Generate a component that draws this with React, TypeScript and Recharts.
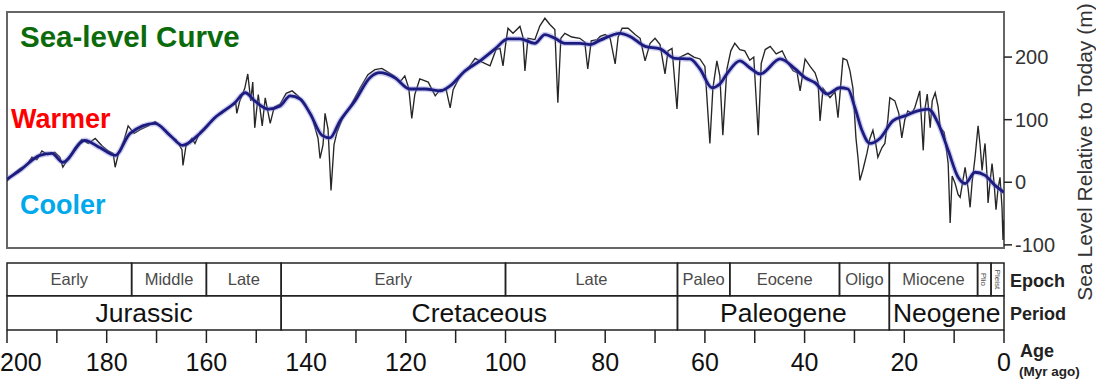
import { ComposedChart, Line, XAxis, YAxis, ReferenceArea } from 'recharts';

const FONT = '"Liberation Sans", Arial, Helvetica, sans-serif';
const INK = '#222';
const FRAME = '#666';

// Sea level (m) vs age (Myr ago): high-resolution record
const rawAge = [
  200.0, 198.6, 197.4, 196.0, 195.0, 194.0, 193.0, 191.8, 190.4, 189.4, 188.8, 188.0, 186.4, 185.0, 183.7,
  182.3, 180.9, 179.7, 178.7, 178.3, 177.7, 176.5, 175.7, 174.5, 173.3, 171.7, 170.3, 168.9, 167.3, 166.1,
  164.9, 164.7, 164.1, 162.9, 162.3, 161.3, 159.7, 158.3, 156.9, 155.3, 154.1, 153.9, 153.3, 152.3, 151.7,
  151.1, 150.7, 150.3, 149.6, 148.8, 148.2, 147.2, 146.4, 145.2, 144.0, 142.8, 141.6, 140.2, 138.8, 137.6,
  137.2, 136.6, 136.2, 135.6, 135.0, 134.4, 133.8, 132.8, 131.2, 129.2, 127.6, 126.2, 124.8, 123.6, 122.4,
  121.2, 120.2, 119.4, 118.8, 118.2, 117.2, 115.5, 114.1, 113.1, 111.9, 111.1, 110.5, 109.1, 107.5, 106.1,
  104.7, 103.1, 101.9, 101.1, 100.5, 99.9, 99.5, 98.5, 97.1, 96.5, 96.1, 95.5, 94.1, 93.1, 92.1,
  91.1, 90.1, 89.5, 88.9, 88.1, 86.7, 85.1, 84.1, 83.5, 82.8, 81.6, 81.0, 80.0, 79.0, 78.0,
  77.4, 76.6, 75.4, 74.0, 73.0, 72.0, 71.0, 70.0, 69.0, 68.0, 67.4, 66.6, 65.6, 65.0, 63.4,
  62.2, 61.0, 60.0, 59.0, 58.4, 57.6, 57.0, 56.4, 55.6, 54.8, 54.0, 53.0, 52.0, 51.0, 50.2,
  49.3, 48.7, 47.9, 46.9, 45.7, 44.5, 43.3, 42.3, 41.5, 40.9, 39.9, 38.9, 37.9, 37.3, 36.9,
  36.3, 34.9, 33.9, 33.3, 32.7, 32.3, 31.5, 30.9, 30.3, 29.7, 29.3, 28.9, 28.3, 27.5, 26.9,
  26.3, 25.7, 25.3, 24.5, 23.9, 23.3, 22.9, 21.9, 21.1, 20.5, 19.9, 19.3, 18.5, 17.9, 17.3,
  16.9, 16.2, 15.8, 15.4, 14.8, 14.4, 13.8, 13.2, 12.8, 12.0, 11.2, 10.8, 10.4, 9.8, 9.2,
  8.8, 8.2, 7.8, 7.2, 6.8, 6.4, 5.8, 5.2, 4.8, 4.4, 4.0, 3.8, 3.4, 3.2, 2.8,
  2.4, 2.0, 1.6, 1.2, 0.8, 0.4, 0.2, 0.0,
];
const rawLevel = [
  2, 14, 22, 28, 40, 36, 50, 44, 48, 40, 24, 34, 55, 68, 62,
  70, 58, 50, 46, 24, 44, 68, 90, 78, 84, 90, 97, 88, 74, 68,
  52, 27, 58, 70, 62, 80, 92, 104, 110, 120, 126, 110, 130, 150, 173,
  130, 160, 87, 140, 90, 135, 94, 120, 125, 142, 146, 138, 124, 104, 70,
  38, 60, 110, 85, -13, 60, 80, 100, 120, 150, 172, 180, 182, 176, 170,
  160, 170, 150, 102, 140, 165, 160, 138, 148, 148, 119, 148, 170, 182, 198,
  192, 186, 212, 214, 186, 225, 246, 238, 249, 232, 178, 230, 228, 250, 262,
  252, 244, 127, 230, 238, 232, 230, 224, 181, 226, 228, 233, 236, 230, 189,
  232, 246, 246, 236, 230, 194, 222, 230, 220, 173, 210, 214, 117, 200, 206,
  200, 197, 185, 62, 150, 194, 170, 75, 180, 210, 222, 212, 210, 195, 200,
  75, 190, 212, 217, 205, 210, 190, 178, 175, 146, 197, 185, 175, 160, 98,
  150, 135, 145, 103, 160, 198, 195, 178, 150, 71, 40, 3, 20, 46, 70,
  83, 60, 40, 55, 62, 100, 135, 130, 110, 71, 100, 114, 110, 119, 135,
  146, 51, 120, 141, 87, 130, 143, 120, 87, 80, 30, -65, 10, -2, -20,
  -24, 5, 24, -10, -40, 0, 40, 90, 60, 19, 50, 62, 10, -33, 0,
  30, 0, -44, -10, 8, -40, -92, -60,
];

// Long-term (smoothed) sea level curve
const smoothAge = [
  200.0, 197.4, 193.4, 191.0, 188.8, 184.4, 181.3, 178.3, 175.3, 170.3, 167.3, 164.8, 161.3, 158.3, 154.3,
  152.2, 150.3, 147.6, 145.2, 143.2, 141.2, 139.2, 136.8, 135.2, 133.2, 130.2, 127.2, 125.2, 122.2, 119.2,
  116.1, 113.1, 111.1, 108.1, 105.1, 102.1, 99.5, 97.1, 94.1, 92.1, 90.1, 88.1, 85.1, 83.0, 81.0,
  77.0, 75.0, 72.0, 69.0, 66.0, 63.0, 61.0, 58.6, 57.0, 55.6, 53.0, 51.0, 48.9, 44.9, 41.9,
  39.9, 37.9, 35.5, 32.9, 31.3, 29.9, 28.5, 26.9, 24.9, 22.3, 19.9, 17.3, 15.2, 13.2, 11.2,
  9.2, 7.8, 5.8, 3.8, 1.8, 0.0,
];
const smoothLevel = [
  5, 19, 43, 46, 32, 67, 55, 43, 78, 94, 75, 59, 78, 103, 127,
  143, 130, 117, 122, 138, 133, 110, 75, 71, 98, 130, 167, 175, 167, 149,
  149, 146, 154, 178, 194, 213, 229, 229, 222, 236, 230, 222, 222, 220, 227,
  238, 233, 217, 213, 198, 197, 181, 151, 157, 173, 194, 183, 173, 197, 181,
  167, 159, 141, 151, 149, 119, 83, 62, 70, 98, 106, 114, 117, 94, 51,
  8, -2, 16, 11, -5, -16,
];

// Geologic time scale
const epochName = ['Early', 'Middle', 'Late', 'Early', 'Late', 'Paleo', 'Eocene', 'Oligo', 'Miocene', 'Plio', 'Pleist'];
const epochStart = [200, 175, 160, 145, 100, 65.5, 55, 33, 23, 5.3, 2.6];
const epochEnd = [175, 160, 145, 100, 65.5, 55, 33, 23, 5.3, 2.6, 0];

const periodName = ['Jurassic', 'Cretaceous', 'Paleogene', 'Neogene'];
const periodStart = [200, 145, 65.5, 23];
const periodEnd = [145, 65.5, 23, 0];

const ageTicks = [200, 190, 180, 170, 160, 150, 140, 130, 120, 110, 100, 90, 80, 70, 60, 50, 40, 30, 20, 10, 0];
const levelTicks = [-100, 0, 100, 200];

// y-value bands used for the time-scale rows under the curve
const FRAME_TOP = 272;
const FRAME_BOTTOM = -105;
const EPOCH_TOP = -128.8;
const EPOCH_BOTTOM = -181.4;
const PERIOD_BOTTOM = -236;

const rawData = rawAge.map((a, i) => ({ age: a, level: rawLevel[i] }));
const smoothData = smoothAge.map((a, i) => ({ age: a, level: smoothLevel[i] }));

const AgeTick = ({ x, y, payload }: any) => {
  const v = payload.value;
  if (v % 20 !== 0) return <g />;
  const first = v === 200;
  return (
    <text x={first ? x - 7 : x} y={y + 26} textAnchor={first ? 'start' : 'middle'}
      fontFamily={FONT} fontSize={25} fill="#111">
      {v}
    </text>
  );
};

export default function App() {
  return (
    <div style={{ position: 'absolute', left: 0, top: 0, width: 1096, height: 381, background: '#fff' }}>
      <ComposedChart width={1096} height={381} margin={{ top: 12, right: 12, bottom: 0, left: 7 }}>
        <XAxis type="number" dataKey="age" domain={[0, 200]} reversed allowDataOverflow
          ticks={ageTicks} interval={0} height={51} axisLine={false}
          tickSize={13} tickMargin={2} tickLine={{ stroke: INK, strokeWidth: 1.5 }} tick={<AgeTick />} />
        <YAxis type="number" orientation="right" domain={[PERIOD_BOTTOM, FRAME_TOP]} allowDataOverflow
          ticks={levelTicks} interval={0} width={80} axisLine={false}
          tickSize={8} tickMargin={3} tickLine={{ stroke: INK, strokeWidth: 1.5 }}
          tick={{ fontSize: 20, fill: '#333', fontFamily: FONT }} />

        <ReferenceArea x1={200} x2={0} y1={FRAME_BOTTOM} y2={FRAME_TOP}
          fill="#fff" fillOpacity={0} stroke={FRAME} strokeWidth={2} />

        {epochName.map((n, i) => {
          const small = i >= 9;
          return (
            <ReferenceArea key={'e' + i} x1={epochStart[i]} x2={epochEnd[i]} y1={EPOCH_BOTTOM} y2={EPOCH_TOP}
              fill="#fff" fillOpacity={0} stroke={INK} strokeWidth={1.5}
              label={{ value: n, position: 'center', fill: '#4a4a4a', fontSize: small ? 8 : 16.5,
                fontFamily: FONT, angle: small ? 90 : 0 }} />
          );
        })}
        {periodName.map((n, i) => (
          <ReferenceArea key={'p' + i} x1={periodStart[i]} x2={periodEnd[i]} y1={PERIOD_BOTTOM} y2={EPOCH_BOTTOM}
            fill="#fff" fillOpacity={0} stroke={INK} strokeWidth={1.5}
            label={{ value: n, position: 'center', fill: '#111', fontSize: 26.5, fontFamily: FONT }} />
        ))}

        <Line data={rawData} dataKey="level" type="linear" stroke="#262626" strokeWidth={1.35}
          dot={false} activeDot={false} isAnimationActive={false} />
        <Line data={smoothData} dataKey="level" type="monotone" stroke="#7c7cd8" strokeWidth={5.5}
          strokeOpacity={0.4} dot={false} activeDot={false} isAnimationActive={false} />
        <Line data={smoothData} dataKey="level" type="monotone" stroke="#1c1c80" strokeWidth={2.8}
          dot={false} activeDot={false} isAnimationActive={false} />
      </ComposedChart>

      <svg width={1096} height={381} style={{ position: 'absolute', left: 0, top: 0, pointerEvents: 'none' }}
        fontFamily={FONT}>
        <text x={20} y={47} fontSize={29.5} fontWeight="bold" fill="#0b6b0b">Sea-level Curve</text>
        <text x={11} y={128} fontSize={27} fontWeight="bold" fill="#ff0000">Warmer</text>
        <text x={20} y={214} fontSize={27} fontWeight="bold" fill="#00a8ec">Cooler</text>

        <text x={1010} y={287} fontSize={18} fontWeight="bold" fill={INK}>Epoch</text>
        <text x={1010} y={320} fontSize={18} fontWeight="bold" fill={INK}>Period</text>
        <text x={1020} y={357} fontSize={18} fontWeight="bold" fill={INK}>Age</text>
        <text x={1019} y={376} fontSize={13.5} fontWeight="bold" fill={INK}>(Myr ago)</text>

        <text x={1092} y={152} transform="rotate(-90, 1092, 152)" textAnchor="middle"
          fontSize={21} fill="#333">Sea Level Relative to Today (m)</text>
      </svg>
    </div>
  );
}
